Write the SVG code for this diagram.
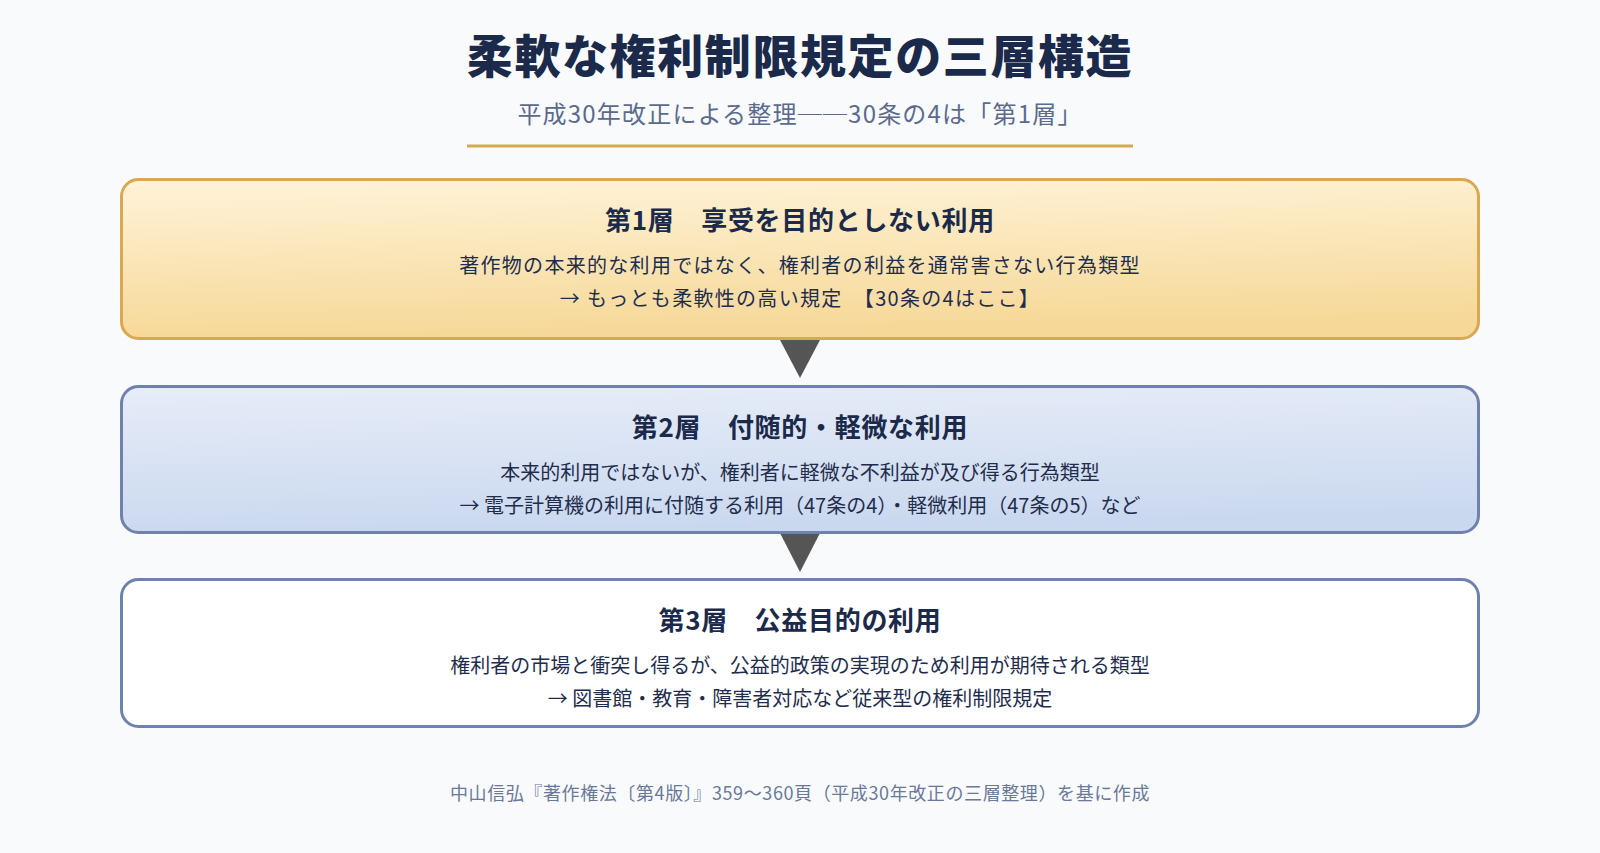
<svg xmlns="http://www.w3.org/2000/svg" width="1600" height="853" viewBox="0 0 1600 853">
<defs>
<linearGradient id="gGold" x1="0" y1="0" x2="0.15" y2="1">
<stop offset="0" stop-color="#fff3d8"/>
<stop offset="1" stop-color="#f6d898"/>
</linearGradient>
<linearGradient id="gBlue" x1="0" y1="0" x2="0.15" y2="1">
<stop offset="0" stop-color="#e7edf8"/>
<stop offset="1" stop-color="#cad8ef"/>
</linearGradient>
<style>
text { font-family: "Noto Sans CJK JP", "Noto Sans", sans-serif; text-anchor: middle; }
.title { font-size: 46px; font-weight: 900; fill: #1b2a4a; letter-spacing: 1.6px; }
.sub { font-size: 24px; font-weight: 400; fill: #5c6b8c; letter-spacing: 1.2px; }
.ht { font-size: 26px; font-weight: 700; fill: #1b2a4a; letter-spacing: 0.7px; }
.bd { font-size: 20px; font-weight: 400; fill: #1f2d4d; }
.bd1 { letter-spacing: 1.3px; }
.fn { font-size: 18px; font-weight: 400; fill: #6a7899; letter-spacing: 0.6px; }
.box { stroke-width: 3; }
.arrow { fill: #555555; }
</style>
</defs>
<rect x="0" y="0" width="1600" height="853" fill="#f8fafc"/>
<g id="header">
<text class="title" x="800" y="73">柔軟な権利制限規定の三層構造</text>
<text class="sub" x="800" y="123">平成30年改正による整理──30条の4は「第1層」</text>
<line x1="467" y1="146" x2="1133" y2="146" stroke="#d4a952" stroke-width="3"/>
</g>
<g id="connectors">
<polygon class="arrow" points="780,340 820,340 800,378"/>
<polygon class="arrow" points="780,533 820,533 800,572"/>
</g>
<g id="layer1">
<rect class="box" x="121.5" y="179.5" width="1357" height="159" rx="17" fill="url(#gGold)" stroke="#d8a951"/>
<text class="ht" x="800" y="229.5">第1層　享受を目的としない利用</text>
<text class="bd bd1" x="800" y="272.5">著作物の本来的な利用ではなく、権利者の利益を通常害さない行為類型</text>
<text class="bd bd1" x="800" y="306">→ もっとも柔軟性の高い規定　【30条の4はここ】</text>
</g>
<g id="layer2">
<rect class="box" x="121.5" y="386.5" width="1357" height="146" rx="17" fill="url(#gBlue)" stroke="#6e82ad"/>
<text class="ht" x="800" y="436.5">第2層　付随的・軽微な利用</text>
<text class="bd" x="800" y="479.5">本来的利用ではないが、権利者に軽微な不利益が及び得る行為類型</text>
<text class="bd" x="800" y="512.5">→ 電子計算機の利用に付随する利用（47条の4）・軽微利用（47条の5）など</text>
</g>
<g id="layer3">
<rect class="box" x="121.5" y="579.5" width="1357" height="147" rx="17" fill="#ffffff" stroke="#6e82ad"/>
<text class="ht" x="800" y="629.5">第3層　公益目的の利用</text>
<text class="bd" x="800" y="672.5">権利者の市場と衝突し得るが、公益的政策の実現のため利用が期待される類型</text>
<text class="bd" x="800" y="705.5">→ 図書館・教育・障害者対応など従来型の権利制限規定</text>
</g>
<g id="footnote">
<text class="fn" x="800" y="800">中山信弘『著作権法〔第4版〕』359〜360頁（平成30年改正の三層整理）を基に作成</text>
</g>
</svg>
